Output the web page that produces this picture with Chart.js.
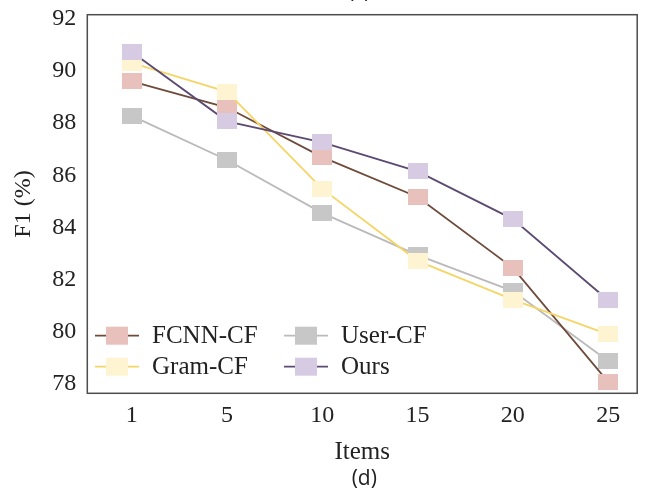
<!DOCTYPE html>
<html>
<head>
<meta charset="utf-8">
<script src="https://cdn.jsdelivr.net/npm/chart.js@4/dist/chart.umd.min.js"></script>
<style>
  html, body { margin: 0; padding: 0; background: #fff; }
  canvas { display: block; }
</style>
</head>
<body>
<canvas id="chart" width="649" height="497"></canvas>
<script>
// values
const itemLabels = ['1', '5', '10', '15', '20', '25'];
const fcnnCF = [89.6, 88.6, 86.7, 85.17, 82.45, 78.08];
const gramCF = [90.31, 89.2, 85.48, 82.72, 81.23, 79.9];
const userCF = [88.28, 86.59, 84.55, 82.94, 81.56, 78.88];
const ours = [90.73, 88.07, 87.26, 86.15, 84.32, 81.21];
const seriesNames = ['FCNN-CF', 'Gram-CF', 'User-CF', 'Ours'];

const serif = "'Liberation Serif', 'Times New Roman', serif";

function makeRect(fill, w, h) {
  const c = document.createElement('canvas');
  c.width = w;
  c.height = h;
  const g = c.getContext('2d');
  g.fillStyle = fill;
  g.fillRect(0, 0, w, h);
  return c;
}

function toPoints(values) {
  return values.map((y, i) => ({ x: i, y: y }));
}

function makeSet(label, values, line, fill, order) {
  return {
    label: label,
    data: toPoints(values),
    borderColor: line,
    backgroundColor: fill,
    markerFill: fill,
    borderWidth: 1.8,
    tension: 0,
    pointStyle: makeRect(fill, 20, 16),
    pointRadius: 10,
    order: order
  };
}

// box, legend and the figure captions
const extras = {
  id: 'extras',
  afterDraw(chart) {
    const { ctx, chartArea: a } = chart;
    ctx.save();
    ctx.strokeStyle = '#4d4d4d';
    ctx.lineWidth = 1.5;
    ctx.strokeRect(a.left, a.top, a.right - a.left, a.bottom - a.top);

    const cells = [
      { ds: 0, col: 0, row: 0 },
      { ds: 2, col: 1, row: 0 },
      { ds: 1, col: 0, row: 1 },
      { ds: 3, col: 1, row: 1 }
    ];
    const colX = [a.left + 7.7, a.left + 196.7];
    const rowY = [a.bottom - 57.6, a.bottom - 26.6];
    ctx.font = '25px ' + serif;
    ctx.textBaseline = 'middle';
    ctx.textAlign = 'left';
    cells.forEach(c => {
      const d = chart.data.datasets[c.ds];
      const x = colX[c.col];
      const y = rowY[c.row];
      ctx.strokeStyle = d.borderColor;
      ctx.lineWidth = 1.8;
      ctx.beginPath();
      ctx.moveTo(x, y);
      ctx.lineTo(x + 44, y);
      ctx.stroke();
      ctx.fillStyle = d.markerFill;
      ctx.fillRect(x + 11, y - 9, 22, 18);
      ctx.fillStyle = '#222';
      ctx.fillText(d.label, x + 57, y + 1);
    });

    ctx.font = "21px 'Open Sans', 'DejaVu Sans', sans-serif";
    ctx.textAlign = 'center';
    ctx.textBaseline = 'middle';
    ctx.fillStyle = '#222';
    ctx.fillText('(d)', (a.left + a.right) / 2 + 2, 479);
    ctx.textBaseline = 'alphabetic';
    ctx.fillText('(c)', (a.left + a.right) / 2 - 3, -2);
    ctx.restore();
  }
};

new Chart(document.getElementById('chart'), {
  type: 'line',
  data: {
    datasets: [
      makeSet(seriesNames[0], fcnnCF, '#6f4b3b', '#e8c0bc', 2),
      makeSet(seriesNames[1], gramCF, '#f6d567', '#fef4d2', 1),
      makeSet(seriesNames[2], userCF, '#bababa', '#c7c7c7', 3),
      makeSet(seriesNames[3], ours, '#5c4a73', '#d7cbe3', 0)
    ]
  },
  options: {
    responsive: false,
    devicePixelRatio: 1,
    animation: false,
    events: [],
    layout: { padding: { left: 0, right: 3, top: 14.7, bottom: 30 } },
    plugins: {
      legend: { display: false },
      tooltip: { enabled: false }
    },
    scales: {
      x: {
        type: 'linear',
        min: -0.467,
        max: 5.305,
        grid: { display: false, drawTicks: false },
        border: { display: false },
        ticks: {
          stepSize: 1,
          includeBounds: false,
          padding: 8,
          color: '#222',
          font: { family: serif, size: 24 },
          maxRotation: 0,
          callback: v => itemLabels[v]
        },
        title: {
          display: true,
          text: 'Items',
          color: '#222',
          font: { family: serif, size: 25 },
          padding: { top: 0, bottom: 0 }
        },
        afterFit: s => {
          s.height = 73.7;
          s.paddingLeft = 0;
          s.paddingRight = 0;
        }
      },
      y: {
        min: 77.64,
        max: 92.16,
        grid: { display: false, drawTicks: false },
        border: { display: false },
        ticks: {
          stepSize: 2,
          includeBounds: false,
          padding: 11,
          color: '#222',
          font: { family: serif, size: 24 }
        },
        title: {
          display: true,
          text: 'F1 (%)',
          color: '#222',
          font: { family: serif, size: 24 },
          padding: { top: 9, bottom: 0 }
        },
        afterFit: s => {
          s.width = 87.3;
          s.paddingTop = 0;
          s.paddingBottom = 0;
        }
      }
    }
  },
  plugins: [extras]
});
</script>
</body>
</html>
